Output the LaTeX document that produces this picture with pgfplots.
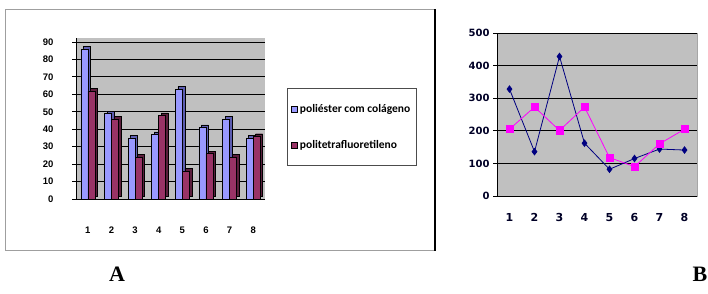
\documentclass[border=0pt]{standalone}
\usepackage{fontspec}
\setmainfont{Liberation Sans}
\newfontfamily\dejavu{DejaVu Sans}
\newfontfamily\carlito{Carlito}
\newfontfamily\tnr{Liberation Serif}
\usepackage{pgfplots}
\pgfplotsset{compat=1.18}
\definecolor{barblue}{HTML}{9999FF}
\definecolor{barred}{HTML}{993366}
\definecolor{barblueD}{HTML}{5C5CB0}
\definecolor{barredD}{HTML}{5A1E3C}
\definecolor{wallgrey}{HTML}{C0C0C0}
\definecolor{navy}{HTML}{000080}
\definecolor{pinkm}{HTML}{FF00FF}
\begin{document}
\begin{tikzpicture}[x=1pt,y=1pt]
\path[use as bounding box] (0,0) rectangle (708,293);
\draw[gray!75, line width=1pt] (5.5,43) rectangle (435,284);
\draw[black, line width=1.3pt] (435,42.5) -- (435,284.5);

% ---------------- Chart A ----------------
\begin{axis}[
  at={(76pt,94pt)}, anchor=south west,
  scale only axis, width=189pt, height=161pt,
  xmin=0.5, xmax=8.5, ymin=0, ymax=92.3,
  ybar=0pt, bar width=7pt,
  /pgf/number format/assume math mode=true,
  axis background/.style={fill=wallgrey},
  axis x line*=bottom, axis y line*=left,
  axis line style={black, line width=0.8pt},
  ytick={0,10,...,90},
  ymajorgrids, grid style={black, line width=0.8pt},
  xtick={1,...,8},
  extra x ticks={0.5,1.5,...,8.5}, extra x tick labels={},
  extra x tick style={major tick length=4pt, tick style={black, line width=0.8pt}, grid=none},
  major tick length=4pt, tick align=outside,
  xtick style={draw=none},
  ytick style={black, line width=0.8pt},
  xticklabel style={yshift=-20pt},
  yticklabel style={xshift=-15pt},
  tick label style={font=\bfseries\fontsize{9.5}{11}\selectfont},
  legend style={at={(1.116,0.689)}, anchor=north west, draw=gray!60!black,
    line width=0.8pt, inner xsep=4pt, inner ysep=14pt, row sep=22pt,
    font=\carlito\bfseries\fontsize{11.5}{13}\selectfont},
  legend cell align=left,
]
\addplot[forget plot, fill=barblueD, draw=black, line width=0.4pt, xshift=2.5pt, yshift=2.5pt] coordinates {(1,86) (2,49) (3,35) (4,37) (5,63) (6,41) (7,46) (8,35)};
\addplot[fill=barblue, draw=black, line width=0.4pt,
  legend image code/.code={\draw[fill=barblue, draw=black, line width=0.6pt] (0pt,-3pt) rectangle (6pt,3pt);}]
  coordinates {(1,86) (2,49) (3,35) (4,37) (5,63) (6,41) (7,46) (8,35)};
\addplot[forget plot, fill=barredD, draw=black, line width=0.4pt, xshift=2.5pt, yshift=2.5pt] coordinates {(1,62) (2,46) (3,24) (4,48) (5,16) (6,26) (7,24) (8,36)};
\addplot[fill=barred, draw=black, line width=0.4pt,
  legend image code/.code={\draw[fill=barred, draw=black, line width=0.6pt] (0pt,-3pt) rectangle (6pt,3pt);}]
  coordinates {(1,62) (2,46) (3,24) (4,48) (5,16) (6,26) (7,24) (8,36)};
\legend{poliéster com colágeno, politetrafluoretileno}
\end{axis}

% ---------------- Chart B ----------------
\begin{axis}[
  at={(497pt,97pt)}, anchor=south west,
  scale only axis, width=200pt, height=163pt,
  xmin=0.5, xmax=8.5, ymin=0, ymax=500,
  /pgf/number format/assume math mode=true,
  axis background/.style={fill=wallgrey, draw=gray!70},
  axis x line*=bottom, axis y line*=left,
  axis line style={black, line width=0.8pt},
  ytick={0,100,...,500},
  ymajorgrids, grid style={black, line width=0.9pt},
  xtick={1,...,8},
  extra x ticks={0.5,1.5,...,8.5}, extra x tick labels={},
  extra x tick style={major tick length=4pt, tick style={black, line width=0.8pt}, grid=none},
  major tick length=4pt, tick align=outside,
  xtick style={draw=none},
  ytick style={black, line width=0.8pt},
  yticklabel style={font=\dejavu\bfseries\fontsize{10}{12}\selectfont, text=black!85!blue},
  xticklabel style={font=\dejavu\bfseries\fontsize{11}{13}\selectfont, yshift=-10pt, text=black!85!blue},
]
\addplot[navy, line width=0.8pt, mark=diamond*, mark size=3.2pt, mark options={fill=navy, draw=navy}]
  coordinates {(1,328) (2,136) (3,428) (4,162) (5,82) (6,115) (7,144) (8,141)};
\addplot[pinkm, line width=0.8pt, mark=square*, mark size=3.6pt, mark options={fill=pinkm, draw=pinkm}]
  coordinates {(1,205) (2,273) (3,201) (4,273) (5,118) (6,90) (7,160) (8,205)};
\end{axis}

\node[font=\tnr\bfseries\fontsize{22}{24}\selectfont, anchor=base] at (117,12) {A};
\node[font=\tnr\bfseries\fontsize{22}{24}\selectfont, anchor=base] at (700,12) {B};
\end{tikzpicture}
\end{document}
